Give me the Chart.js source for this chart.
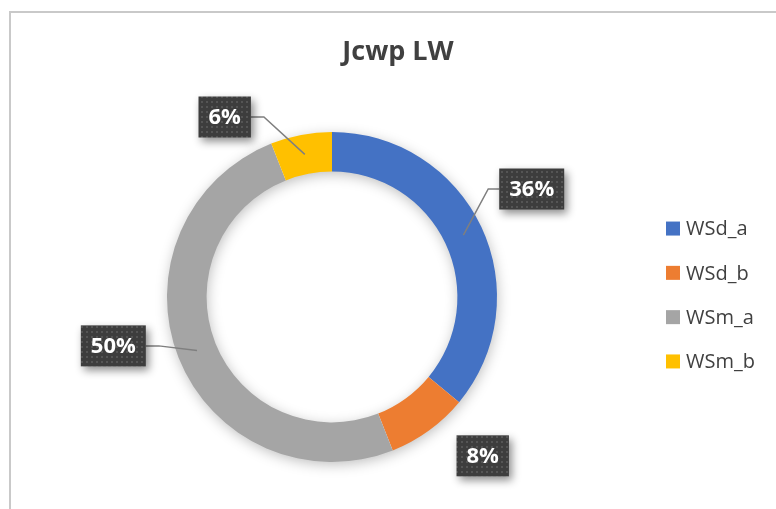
<!DOCTYPE html>
<html><head><meta charset="utf-8">
<script src="https://cdn.jsdelivr.net/npm/chart.js@4/dist/chart.umd.min.js"></script>
<style>html,body{margin:0;padding:0;background:#fff}#wrap{width:776px;height:509px;position:relative}</style>
</head><body><div id="wrap"><canvas id="c" width="776" height="509"></canvas></div>
<script>
const chartTitle = 'Jcwp LW';
const categories = ['WSd_a', 'WSd_b', 'WSm_a', 'WSm_b'];
const values = [36, 8, 50, 6];
const colors = ['#4472C4', '#ED7D31', '#A5A5A5', '#FFC000'];

// label placement relative to each slice: [angle offset (deg), distance as multiple of outer radius]
const labelPlacement = [[-3.2, 1.376], [-7.5, 1.327], [9, 1.358], [-20, 1.27]];
const showLeader = [true, false, true, true];

const total = values.reduce((a, b) => a + b, 0);

function makePattern(ctx) {
  const t = document.createElement('canvas');
  t.width = 5; t.height = 5;
  const g = t.getContext('2d');
  g.fillStyle = '#3d3d3d'; g.fillRect(0, 0, 5, 5);
  g.fillStyle = '#555555'; g.fillRect(1, 1, 2, 2);
  return ctx.createPattern(t, 'repeat');
}

const framePlugin = {
  id: 'frame',
  beforeDraw(chart) {
    const ctx = chart.ctx;
    ctx.save();
    ctx.strokeStyle = '#c9c9c9';
    ctx.lineWidth = 2;
    ctx.beginPath();
    ctx.moveTo(10, chart.height);
    ctx.lineTo(10, 12);
    ctx.lineTo(chart.width, 12);
    ctx.stroke();
    // chart title, centred in the chart frame (frame spans x 10 .. 786)
    ctx.font = 'bold 27px "Open Sans"';
    ctx.fillStyle = '#404040';
    ctx.textAlign = 'center';
    ctx.textBaseline = 'middle';
    ctx.fillText(chartTitle, 398, 52);
    ctx.restore();
  }
};

const ringShadow = {
  id: 'ringShadow',
  beforeDatasetsDraw(chart) {
    const arc = chart.getDatasetMeta(0).data[0];
    if (!arc) return;
    const {x, y, outerRadius, innerRadius} = arc.getProps(['x', 'y', 'outerRadius', 'innerRadius'], true);
    const ctx = chart.ctx;
    ctx.save();
    ctx.shadowColor = 'rgba(0,0,0,0.28)';
    ctx.shadowBlur = 14;
    ctx.shadowOffsetX = 1;
    ctx.shadowOffsetY = 3;
    ctx.fillStyle = '#ffffff';
    ctx.beginPath();
    ctx.arc(x, y, outerRadius - 1, 0, Math.PI * 2);
    ctx.arc(x, y, innerRadius + 1, 0, Math.PI * 2, true);
    ctx.fill('evenodd');
    ctx.restore();
  }
};

const sideLegend = {
  id: 'sideLegend',
  afterDraw(chart) {
    const ctx = chart.ctx;
    const ca = chart.chartArea;
    const midY = (ca.top + ca.bottom) / 2 - 2;
    const step = 44.3;
    const x0 = ca.right + 22;
    ctx.save();
    ctx.font = '20px "Open Sans"';
    ctx.textBaseline = 'middle';
    ctx.textAlign = 'left';
    categories.forEach((name, i) => {
      const y = midY + (i - (categories.length - 1) / 2) * step;
      ctx.fillStyle = colors[i];
      ctx.fillRect(x0, y - 7, 14, 14);
      ctx.fillStyle = '#404040';
      ctx.fillText(name, x0 + 20, y + 1);
    });
    ctx.restore();
  }
};

const dataLabels = {
  id: 'dataLabels',
  afterDatasetsDraw(chart) {
    const ctx = chart.ctx;
    const meta = chart.getDatasetMeta(0);
    const pattern = makePattern(ctx);
    meta.data.forEach((arc, i) => {
      const p = arc.getProps(['x', 'y', 'startAngle', 'endAngle', 'outerRadius', 'innerRadius'], true);
      const mid = (p.startAngle + p.endAngle) / 2;
      const midR = (p.outerRadius + p.innerRadius) / 2;
      const ax = p.x + Math.cos(mid) * midR;
      const ay = p.y + Math.sin(mid) * midR;
      const la = mid + labelPlacement[i][0] * Math.PI / 180;
      const lr = p.outerRadius * labelPlacement[i][1];
      const cx = p.x + Math.cos(la) * lr;
      const cy = p.y + Math.sin(la) * lr;
      const text = Math.round(values[i] / total * 100) + '%';
      ctx.save();
      ctx.font = 'bold 22px "Open Sans"';
      const tw = ctx.measureText(text).width;
      const bw = tw + 20, bh = 41;
      const bx = cx - bw / 2, by = cy - bh / 2;
      if (showLeader[i]) {
        let ex, elbow;
        if (ax > bx + bw) { ex = bx + bw; elbow = ex + 13; }
        else { ex = bx; elbow = ex - 11; }
        ctx.strokeStyle = '#7f7f7f';
        ctx.lineWidth = 1.5;
        ctx.beginPath();
        ctx.moveTo(ex, cy);
        if (Math.abs(ay - cy) > 3) ctx.lineTo(elbow, cy);
        ctx.lineTo(ax, ay);
        ctx.stroke();
      }
      ctx.shadowColor = 'rgba(0,0,0,0.45)';
      ctx.shadowBlur = 8;
      ctx.shadowOffsetX = 3;
      ctx.shadowOffsetY = 4;
      ctx.fillStyle = pattern;
      ctx.fillRect(bx, by, bw, bh);
      ctx.shadowColor = 'transparent';
      ctx.fillStyle = '#ffffff';
      ctx.textAlign = 'center';
      ctx.textBaseline = 'middle';
      ctx.fillText(text, cx, cy + 1);
      ctx.restore();
    });
  }
};

new Chart(document.getElementById('c'), {
  type: 'doughnut',
  data: {
    labels: categories,
    datasets: [{
      data: values,
      backgroundColor: colors,
      borderWidth: 0,
      hoverOffset: 0
    }]
  },
  options: {
    responsive: false,
    animation: false,
    cutout: '76%',
    layout: { padding: { left: 20, right: 132, top: 132, bottom: 47 } },
    plugins: {
      title: { display: false },
      legend: { display: false },
      tooltip: { enabled: false }
    }
  },
  plugins: [framePlugin, ringShadow, dataLabels, sideLegend]
});
</script>
</body></html>
